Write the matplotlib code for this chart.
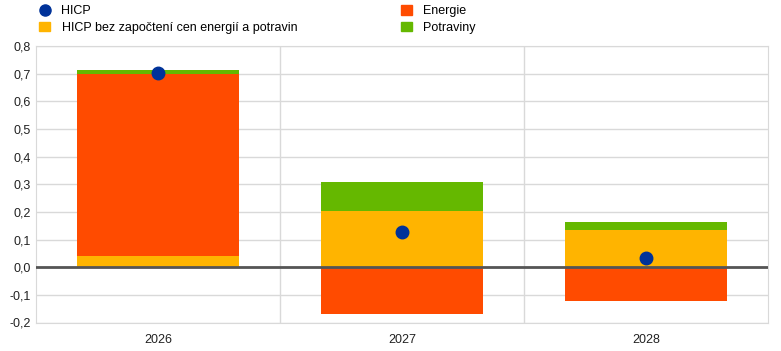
import numpy as np
import matplotlib.pyplot as plt
from matplotlib.lines import Line2D
from matplotlib.patches import Patch

plt.rcParams['font.family'] = ['Liberation Sans', 'DejaVu Sans']

years = ["2026", "2027", "2028"]
core = [0.039, 0.203, 0.134]
energy = [0.659, -0.170, -0.123]
food = [0.014, 0.105, 0.029]
hicp = [0.704, 0.127, 0.033]

c_core = "#ffb400"
c_energy = "#ff4b00"
c_food = "#65b800"
c_hicp = "#003299"

fig = plt.figure(figsize=(7.81, 3.51), dpi=100)
ax = fig.add_axes([36 / 781, 1 - 322.5 / 351, (768 - 36) / 781, (322.5 - 46) / 351])

x = np.arange(len(years))
w = 0.665
core_a = np.array(core)
energy_a = np.array(energy)
food_a = np.array(food)

# positive parts stack upward, negative downward
pos_base = np.zeros(3)
neg_base = np.zeros(3)
for vals, col in [(core_a, c_core), (energy_a, c_energy), (food_a, c_food)]:
    bottom = np.where(vals >= 0, pos_base, neg_base)
    ax.bar(x, vals, w, bottom=bottom, color=col, zorder=2)
    pos_base = pos_base + np.where(vals >= 0, vals, 0)
    neg_base = neg_base + np.where(vals < 0, vals, 0)

ax.plot(x, hicp, "o", color=c_hicp, markersize=9, zorder=4)
ax.axhline(0, color="#555555", lw=2, zorder=3)

ax.set_xlim(-0.5, 2.5)
ax.set_ylim(-0.2, 0.8)
ax.set_yticks(np.arange(-0.2, 0.81, 0.1))
ax.set_yticklabels([f"{v:.1f}".replace(".", ",") for v in np.arange(-0.2, 0.81, 0.1)])
ax.set_xticks(x)
ax.set_xticklabels(years)
ax.set_xticks([0.5, 1.5], minor=True)
ax.grid(axis="y", color="#d9d9d9", lw=1, zorder=0)
ax.grid(axis="x", which="minor", color="#d9d9d9", lw=1, zorder=0)
ax.tick_params(axis="both", which="both", length=0, labelsize=9, colors="#222222")
ax.tick_params(axis="x", pad=8)
for s in ax.spines.values():
    s.set_color("#d9d9d9")

h1 = [Line2D([], [], marker="o", ls="", color=c_hicp, markersize=8),
      Patch(color=c_core)]
l1 = ["HICP", "HICP bez započtení cen energií a potravin"]
h2 = [Patch(color=c_energy), Patch(color=c_food)]
l2 = ["Energie", "Potraviny"]
kw = dict(loc="upper left", frameon=False, fontsize=9, handlelength=0.9,
          handleheight=0.8, handletextpad=0.9, labelspacing=0.35, borderaxespad=0)
fig.legend(h1, l1, bbox_to_anchor=(34 / 781, 1.0), **kw)
fig.legend(h2, l2, bbox_to_anchor=(396 / 781, 1.0), **kw)

fig.savefig("out.png", dpi=100)
